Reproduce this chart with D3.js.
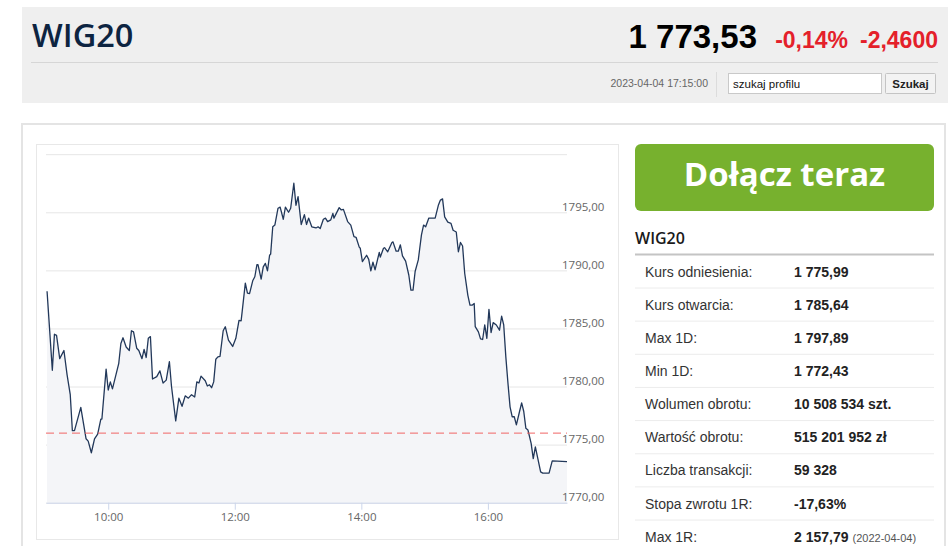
<!DOCTYPE html>
<html>
<head>
<meta charset="utf-8">
<script src="https://cdn.jsdelivr.net/npm/d3@7"></script>
<style>
  body { margin: 0; background: #fff; }
  svg { display: block; }
</style>
</head>
<body>
<div id="page"></div>
<script>
// intraday WIG20 quotes
const times = ["09:02","09:07","09:09","09:11","09:14","09:18","09:21","09:24","09:26","09:28",
  "09:34","09:39","09:41","09:44","09:47","09:50","09:53","09:54","09:58","10:00",
  "10:02","10:04","10:10","10:12","10:14","10:17","10:20","10:22","10:24","10:27",
  "10:29","10:32","10:34","10:36","10:38","10:40","10:42","10:46","10:49","10:52",
  "10:55","10:58","11:00","11:04","11:07","11:10","11:13","11:16","11:19","11:22",
  "11:24","11:26","11:28","11:32","11:34","11:36","11:38","11:40","11:42","11:44",
  "11:46","11:49","11:51","11:54","11:58","12:01","12:04","12:06","12:07","12:10",
  "12:12","12:14","12:17","12:19","12:21","12:22","12:25","12:27","12:29","12:31",
  "12:33","12:34","12:36","12:38","12:41","12:43","12:46","12:48","12:51","12:53",
  "12:56","12:58","13:00","13:03","13:06","13:08","13:10","13:13","13:17","13:19",
  "13:21","13:24","13:26","13:28","13:31","13:33","13:34","13:39","13:41","13:43",
  "13:47","13:50","13:53","13:55","13:58","13:59","14:01","14:05","14:07","14:09",
  "14:11","14:13","14:17","14:18","14:21","14:22","14:25","14:29","14:30","14:33",
  "14:35","14:37","14:39","14:42","14:45","14:47","14:49","14:51","14:54","14:57",
  "14:59","15:01","15:04","15:06","15:10","15:13","15:15","15:17","15:19","15:22",
  "15:25","15:27","15:30","15:32","15:34","15:36","15:38","15:41","15:43","15:45",
  "15:47","15:48","15:51","15:53","15:55","15:57","15:59","16:01","16:03","16:05",
  "16:08","16:11","16:13","16:15","16:17","16:19","16:21","16:23","16:25","16:27",
  "16:30","16:32","16:34","16:36","16:38","16:41","16:43","16:45","16:47","16:50",
  "16:52","16:58","17:01","17:15"]
const values = [1788.2,1781.4,1784.5,1784.4,1782.4,1783.1,1781.0,1779.3,1776.2,1776.2,
  1778.2,1775.5,1775.3,1774.3,1775.5,1775.9,1777.2,1777.2,1781.5,1779.7,
  1780.4,1779.8,1782.0,1783.7,1784.2,1783.4,1783.1,1784.8,1784.7,1783.3,
  1783.1,1782.4,1783.2,1782.5,1784.15,1784.3,1780.65,1780.85,1781.35,1780.3,
  1780.55,1782.15,1780.0,1777.05,1779.0,1778.3,1779.2,1779.0,1779.3,1779.1,
  1780.4,1780.3,1780.9,1780.5,1780.05,1780.15,1779.9,1780.4,1782.35,1782.55,
  1782.6,1784.8,1785.15,1784.0,1783.45,1784.15,1785.7,1785.65,1786.45,1788.9,
  1788.05,1788.0,1789.1,1789.45,1790.5,1790.5,1789.25,1790.3,1790.6,1789.95,
  1791.3,1791.4,1793.75,1793.9,1795.35,1795.45,1794.4,1795.45,1795.0,1795.35,
  1797.5,1795.6,1796.35,1793.95,1794.8,1793.95,1794.5,1793.75,1793.65,1793.75,
  1793.6,1794.4,1794.5,1794.2,1794.35,1794.9,1794.5,1795.4,1795.2,1795.25,
  1794.2,1793.9,1792.9,1792.85,1792.0,1791.9,1790.75,1791.3,1790.95,1789.95,
  1790.7,1790.05,1791.55,1791.15,1791.9,1791.95,1791.6,1792.4,1792.45,1791.65,
  1791.65,1792.2,1791.25,1790.8,1789.6,1788.3,1788.3,1789.9,1790.9,1793.05,
  1793.9,1793.75,1794.5,1794.5,1794.5,1795.6,1796.05,1796.15,1794.6,1794.15,
  1794.05,1793.45,1793.3,1791.6,1792.4,1792.1,1789.75,1787.85,1787.0,1787.0,
  1787.15,1785.15,1784.7,1784.1,1784.05,1785.3,1784.15,1786.65,1784.65,1785.5,
  1785.3,1784.85,1786.05,1785.3,1782.55,1780.3,1778.25,1777.4,1777.4,1776.7,
  1777.85,1778.6,1777.85,1776.4,1776.25,1775.1,1773.8,1774.8,1773.95,1772.65,
  1772.55,1772.55,1773.6,1773.53]

const timeRange = ["09:01", "17:15"]
const yTicks = [1770, 1775, 1780, 1785, 1790, 1795, 1800]
const yLabelTicks = [1770, 1775, 1780, 1785, 1790, 1795]
const xTickLabels = ["10:00", "12:00", "14:00", "16:00"]
const refPrice = 1775.99

const statLabels = ["Kurs odniesienia:", "Kurs otwarcia:", "Max 1D:", "Min 1D:", "Wolumen obrotu:",
  "Wartość obrotu:", "Liczba transakcji:", "Stopa zwrotu 1R:", "Max 1R:"]
const statValues = ["1 775,99", "1 785,64", "1 797,89", "1 772,43", "10 508 534 szt.",
  "515 201 952 zł", "59 328", "-17,63%", "2 157,79"]
const statNotes = ["", "", "", "", "", "", "", "", "(2022-04-04)"]

const SANS = "'Liberation Sans', Arial, sans-serif"
const OPEN = "'Open Sans', 'Noto Sans', sans-serif"

const svg = d3.select("#page").append("svg")
  .attr("width", 948)
  .attr("height", 546)

// ---- header box
svg.append("rect").attr("x", 22).attr("y", 7).attr("width", 930).attr("height", 96).attr("fill", "#efefef")
svg.append("line").attr("x1", 31).attr("x2", 938).attr("y1", 62.5).attr("y2", 62.5)
  .attr("stroke", "#d6d6d6")

svg.append("text").attr("x", 32).attr("y", 47)
  .attr("font-family", OPEN).attr("font-weight", 600).attr("font-size", "32.5px")
  .attr("fill", "#0d2441").text("WIG20")

svg.append("text").attr("x", 757).attr("y", 48).attr("text-anchor", "end")
  .attr("font-family", SANS).attr("font-weight", "bold").attr("font-size", "33px")
  .attr("fill", "#000").text("1 773,53")
svg.append("text").attr("x", 848).attr("y", 48).attr("text-anchor", "end")
  .attr("font-family", SANS).attr("font-weight", "bold").attr("font-size", "23px")
  .attr("fill", "#e4202a").text("-0,14%")
svg.append("text").attr("x", 938).attr("y", 48).attr("text-anchor", "end")
  .attr("font-family", SANS).attr("font-weight", "bold").attr("font-size", "23px")
  .attr("fill", "#e4202a").text("-2,4600")

svg.append("text").attr("x", 708).attr("y", 87).attr("text-anchor", "end")
  .attr("font-family", SANS).attr("font-size", "10.5px").attr("fill", "#666")
  .text("2023-04-04 17:15:00")
svg.append("line").attr("x1", 716.5).attr("x2", 716.5).attr("y1", 72).attr("y2", 97).attr("stroke", "#dcdcdc")

svg.append("rect").attr("x", 728.5).attr("y", 73.5).attr("width", 153).attr("height", 20)
  .attr("fill", "#fff").attr("stroke", "#c9c9c9")
svg.append("text").attr("x", 733).attr("y", 87.5)
  .attr("font-family", SANS).attr("font-size", "11.5px").attr("fill", "#111").text("szukaj profilu")
svg.append("rect").attr("x", 885.5).attr("y", 73.5).attr("width", 50).attr("height", 20)
  .attr("fill", "#f3f3f3").attr("stroke", "#c4c4c4").attr("rx", 1)
svg.append("text").attr("x", 910.5).attr("y", 87.5).attr("text-anchor", "middle")
  .attr("font-family", SANS).attr("font-weight", "bold").attr("font-size", "11.5px").attr("fill", "#222")
  .text("Szukaj")

// ---- content box
svg.append("rect").attr("x", 22).attr("y", 124).attr("width", 923).attr("height", 440)
  .attr("fill", "#fff").attr("stroke", "#e4e4e4").attr("stroke-width", 2)
svg.append("rect").attr("x", 36.5).attr("y", 144.5).attr("width", 582).attr("height", 395)
  .attr("fill", "#fff").attr("stroke", "#e8e8e8")

// ---- chart
const PLOT = { LEFT: 46, RIGHT: 567, TOP: 154.2, BOTTOM: 502.7 }
const parseTime = d3.timeParse("%H:%M")
const data = times.map((t, i) => ({ date: parseTime(t), value: values[i] }))

const xScale = d3.scaleTime()
  .domain(timeRange.map(parseTime))
  .range([PLOT.LEFT, PLOT.RIGHT])
const yScale = d3.scaleLinear()
  .domain([1770, 1800])
  .range([PLOT.BOTTOM, PLOT.TOP])

const chart = svg.append("g")

// grid lines
chart.append("g")
  .attr("transform", `translate(${PLOT.LEFT}, 0)`)
  .call(d3.axisLeft(yScale).tickValues(yTicks).tickSize(-(PLOT.RIGHT - PLOT.LEFT)).tickFormat(""))
  .call(g => g.select(".domain").remove())
  .call(g => g.selectAll(".tick line").attr("stroke", "#e6e6e6"))

// area + line
chart.append("path")
  .datum(data)
  .attr("fill", "#f4f5f8")
  .attr("d", d3.area()
    .x(d => xScale(d.date))
    .y0(PLOT.BOTTOM)
    .y1(d => yScale(d.value)))

chart.append("path")
  .datum(data)
  .attr("fill", "none")
  .attr("stroke", "#22385a")
  .attr("stroke-width", 1.3)
  .attr("stroke-linejoin", "round")
  .attr("d", d3.line()
    .x(d => xScale(d.date))
    .y(d => yScale(d.value)))

// reference price
chart.append("line")
  .attr("x1", PLOT.LEFT).attr("x2", PLOT.RIGHT)
  .attr("y1", yScale(refPrice)).attr("y2", yScale(refPrice))
  .attr("stroke", "#f06464")
  .attr("stroke-dasharray", "8,5")

// y labels
chart.append("g")
  .attr("transform", `translate(${PLOT.RIGHT - 5}, 0)`)
  .call(d3.axisRight(yScale).tickValues(yLabelTicks).tickSize(0).tickPadding(0)
    .tickFormat(d => d3.format(".2f")(d).replace(".", ",")))
  .call(g => g.select(".domain").remove())
  .call(g => g.selectAll("text")
    .attr("dy", "-2px")
    .attr("fill", "#666")
    .attr("font-family", OPEN)
    .attr("font-size", "11.5px"))

// x axis
chart.append("g")
  .attr("transform", `translate(0, ${PLOT.BOTTOM})`)
  .call(d3.axisBottom(xScale).tickValues(xTickLabels.map(parseTime))
    .tickSize(7).tickSizeOuter(0).tickPadding(3)
    .tickFormat(d3.timeFormat("%H:%M")))
  .call(g => g.select(".domain").attr("stroke", "#ccd6eb"))
  .call(g => g.selectAll(".tick line").attr("stroke", "#ccd6eb"))
  .call(g => g.selectAll("text")
    .attr("fill", "#666")
    .attr("font-family", OPEN)
    .attr("font-size", "11.5px"))

// ---- right column
svg.append("rect").attr("x", 635).attr("y", 144).attr("width", 299).attr("height", 67)
  .attr("rx", 6).attr("fill", "#77b12e")
svg.append("text").attr("x", 784.5).attr("y", 186).attr("text-anchor", "middle")
  .attr("font-family", OPEN).attr("font-weight", "bold").attr("font-size", "33px")
  .attr("fill", "#fff").text("Dołącz teraz")

svg.append("text").attr("x", 635).attr("y", 243.5)
  .attr("font-family", OPEN).attr("font-weight", 600).attr("font-size", "16px")
  .attr("fill", "#1a1a1a").text("WIG20")
svg.append("line").attr("x1", 635).attr("x2", 934).attr("y1", 254.5).attr("y2", 254.5)
  .attr("stroke", "#c4c4c4").attr("stroke-width", 2)

const ROW0 = 271.5, ROWH = 33.15
const rows = svg.append("g")
statLabels.forEach((lab, i) => {
  const cy = ROW0 + i * ROWH
  rows.append("text").attr("x", 645).attr("y", cy + 5)
    .attr("font-family", SANS).attr("font-size", "14px").attr("fill", "#333").text(lab)
  const v = rows.append("text").attr("x", 794).attr("y", cy + 5)
    .attr("font-family", SANS).attr("font-size", "14px").attr("fill", "#222")
  v.append("tspan").attr("font-weight", "bold").text(statValues[i])
  if (statNotes[i]) {
    v.append("tspan").attr("dx", 4).attr("font-size", "11px").attr("fill", "#555").text(statNotes[i])
  }
  if (i < statLabels.length - 1) {
    rows.append("line").attr("x1", 635).attr("x2", 934)
      .attr("y1", cy + 16.5).attr("y2", cy + 16.5).attr("stroke", "#ececec")
  }
})
</script>
</body>
</html>
